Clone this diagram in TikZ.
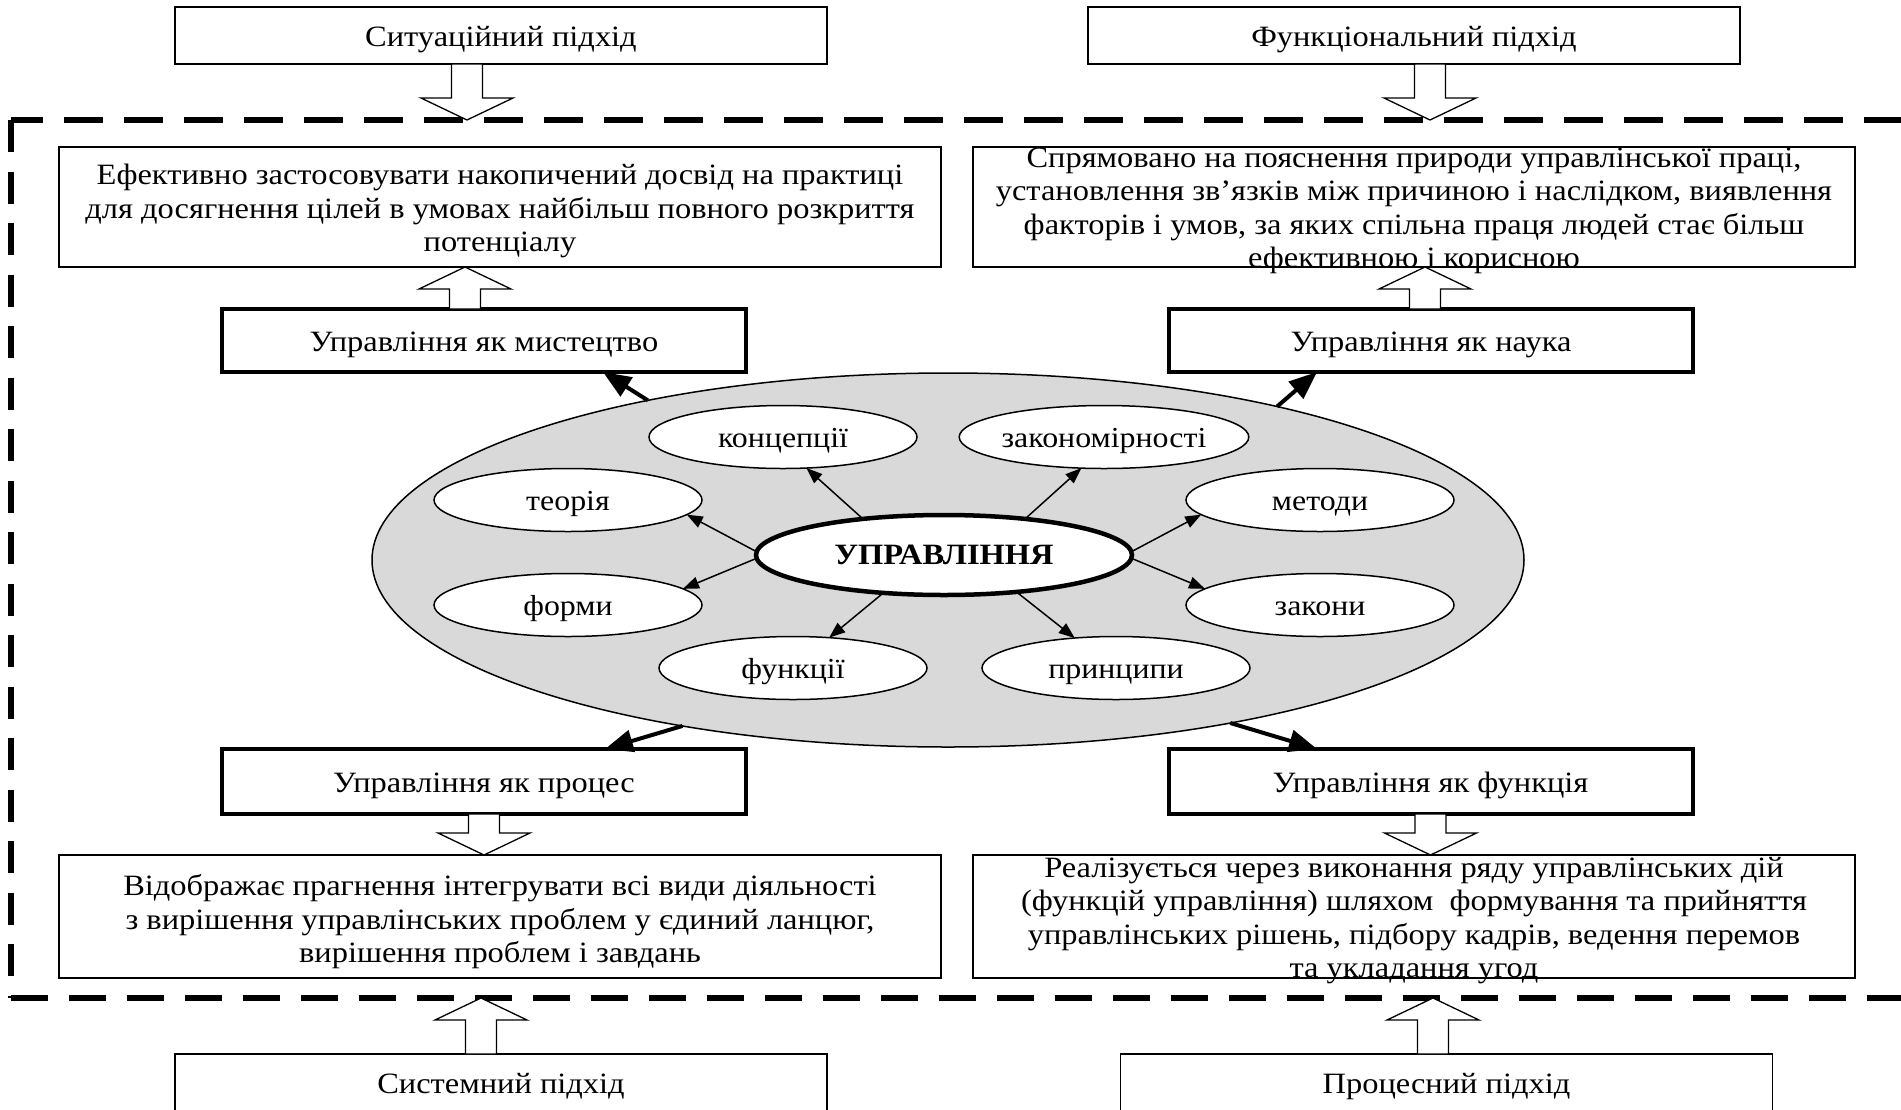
\documentclass[tikz,border=0pt]{standalone}
\usepackage{fontspec}
\setmainfont[FakeStretch=1.1]{Liberation Serif}
\usetikzlibrary{calc,shapes.geometric,arrows.meta}
\definecolor{cloudgray}{HTML}{D9D9D9}

% hollow block arrow from #1 (shaft start) to #2 (tip)
\newcommand\hollowarrow[2]{%
  \coordinate (hb) at ($(#2)!22pt!(#1)$);
  \draw[hollow] ([xshift=-15.5pt]#1) -- ([xshift=-15.5pt]hb) -- ([xshift=-46pt]hb)
    -- (#2) -- ([xshift=46pt]hb) -- ([xshift=15.5pt]hb) -- ([xshift=15.5pt]#1) -- cycle;}

\begin{document}
\begin{tikzpicture}[x=1pt,y=-1pt,
  every node/.style={font=\fontsize{29.5}{33.5}\selectfont, inner sep=0pt, outer sep=0pt},
  oneline/.style={text height=23pt, text depth=1.5pt},
  approach/.style={oneline, draw, line width=1.8pt, fill=white, minimum width=652pt, minimum height=57pt},
  descbox/.style={draw, line width=1.8pt, minimum width=882pt, minimum height=#1},
  kindbox/.style={oneline, draw, line width=4pt, fill=white, minimum width=524pt, minimum height=#1},
  textblock/.style={align=center},
  item/.style={oneline, ellipse, draw, fill=white, line width=1.5pt, minimum width=268pt, minimum height=63pt,
    font=\fontsize{29}{33.5}\selectfont},
  core/.style={ellipse, draw, fill=white, line width=4.5pt, minimum width=376pt, minimum height=80pt,
    font=\fontsize{29.5}{33.5}\selectfont\bfseries},
  cloud/.style={ellipse, draw, fill=cloudgray, line width=1.5pt, minimum width=1152pt, minimum height=374pt},
  thinarrow/.style={-{Triangle[length=16pt,width=12pt]}, line width=1.5pt},
  thickarrow/.style={-{Triangle[length=28pt,width=22pt]}, line width=4pt},
  framehoriz/.style={line width=5.5pt, dash pattern=on 39pt off 21pt},
  framevert/.style={line width=5.5pt, dash pattern=on 32pt off 19.5pt},
  hollow/.style={fill=white, line width=1.3pt, line join=miter}]

\path[use as bounding box, clip] (0,0) rectangle (1901,1109);
\fill[white] (0,0) rectangle (1901,1109);

% outer dashed frame (open on the right)
\coordinate (fr-tl) at (11,120);
\coordinate (fr-tr) at (1901,120);
\coordinate (fr-bl) at (11,998);
\coordinate (fr-br) at (1901,998);
\draw[framehoriz, dash phase=7pt] (fr-tl) -- (fr-tr);
\draw[framevert] (fr-tl) -- (fr-bl);
\draw[framehoriz, dash pattern=on 37pt off 21pt] (fr-bl) -- (fr-br);

% approaches
\node[approach] (sit)  at (501,35.5)   {Ситуаційний підхід};
\node[approach] (func) at (1414,35.5)  {Функціональний підхід};
\node[approach] (sys)  at (501,1082.5) {Системний підхід};
\node[approach] (proc) at (1446.5,1082.5) {Процесний підхід};

% description boxes
\node[descbox=120pt] (A) at (500,207) {};
\node[descbox=120pt] (B) at (1414,207) {};
\node[descbox=123pt] (C) at (500,916.5) {};
\node[descbox=123pt] (D) at (1414,916.5) {};
\node[textblock] (A-text) at ([yshift=-4pt]A.center) {Ефективно застосовувати накопичений досвід на практиці\\ для досягнення цілей в умовах найбільш повного розкриття\\ потенціалу};
\node[textblock] (B-text) at ([yshift=-4pt]B.center) {Спрямовано на пояснення природи управлінської праці,\\ установлення зв’язків між причиною і наслідком, виявлення\\ факторів і умов, за яких спільна праця людей стає більш\\ ефективною і корисною};
\node[textblock] (C-text) at ([yshift=-5.5pt]C.center) {Відображає прагнення інтегрувати всі види діяльності\\ з вирішення управлінських проблем у єдиний ланцюг,\\ вирішення проблем і завдань};
\node[textblock] (D-text) at ([yshift=-4pt]D.center) {Реалізується через виконання ряду управлінських дій\\ (функцій управління) шляхом~ формування та прийняття\\ управлінських рішень, підбору кадрів, ведення перемов\\ та укладання угод};

% kinds of management
\node[kindbox=63pt] (art)      at (484,340.5)    {Управління як мистецтво};
\node[kindbox=63pt] (science)  at (1431,340.5)   {Управління як наука};
\node[kindbox=65pt] (process)  at (484,781.5)    {Управління як процес};
\node[kindbox=65pt] (function) at (1430.5,781.5) {Управління як функція};

% central cloud
\node[cloud] (cloud) at (948,560) {};
\node[core] (core) at (944,555) {УПРАВЛІННЯ};
\node[item] (concepts)  at (783,437)  {концепції};
\node[item] (laws-reg)  at (1104,437) {закономірності};
\node[item] (theory)    at (568,500)  {теорія};
\node[item] (methods)   at (1320,500) {методи};
\node[item] (forms)     at (568,605)  {форми};
\node[item] (laws)      at (1320,605) {закони};
\node[item] (functions) at (793,668)  {функції};
\node[item] (principles) at (1116,668) {принципи};

% arrows from the core
\draw[thinarrow] (core.156) -- (concepts.307);
\draw[thinarrow] (core.24) -- (laws-reg.234);
\draw[thinarrow] (core.179) -- (theory.353);
\draw[thinarrow] (core.181) -- (forms.8);
\draw[thinarrow] (core.1) -- (methods.187);
\draw[thinarrow] (core.359) -- (laws.172);
\draw[thinarrow] (core.212) -- (functions.40);
\draw[thinarrow] (core.333) -- (principles.144);

% arrows from the cloud to the four kinds
\draw[thickarrow] (cloud.152.2) -- ([xshift=119pt]art.south);
\draw[thickarrow] (cloud.25.8) -- ([xshift=-114pt]science.south);
\draw[thickarrow] (cloud.212.7) -- ([xshift=121pt]process.north);
\draw[thickarrow] (cloud.330.8) -- ([xshift=-113.5pt]function.north);

% block arrows
\coordinate (h1s) at ([xshift=-34pt]sit.south);
\coordinate (h1t) at (h1s |- fr-tl);
\hollowarrow{h1s}{h1t}
\coordinate (h2s) at ([xshift=16pt]func.south);
\coordinate (h2t) at (h2s |- fr-tl);
\hollowarrow{h2s}{h2t}
\coordinate (h3s) at ([xshift=-19pt]art.north);
\coordinate (h3t) at (h3s |- A.south);
\hollowarrow{h3s}{h3t}
\coordinate (h4s) at ([xshift=-6pt]science.north);
\coordinate (h4t) at (h4s |- B.south);
\hollowarrow{h4s}{h4t}
\coordinate (h5s) at (process.south);
\coordinate (h5t) at (h5s |- C.north);
\hollowarrow{h5s}{h5t}
\coordinate (h6s) at (function.south);
\coordinate (h6t) at (h6s |- D.north);
\hollowarrow{h6s}{h6t}
\coordinate (h7s) at ([xshift=-20pt]sys.north);
\coordinate (h7t) at (h7s |- fr-bl);
\hollowarrow{h7s}{h7t}
\coordinate (h8s) at ([xshift=-13.5pt]proc.north);
\coordinate (h8t) at (h8s |- fr-bl);
\hollowarrow{h8s}{h8t}
\end{tikzpicture}
\end{document}
